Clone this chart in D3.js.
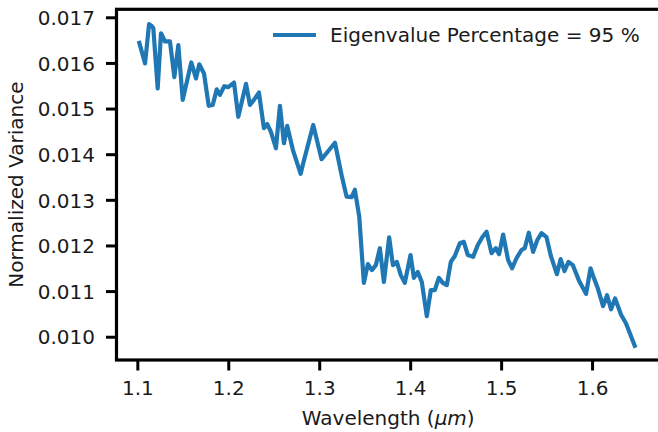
<!DOCTYPE html>
<html>
<head>
<meta charset="utf-8">
<script src="https://cdn.jsdelivr.net/npm/d3@7"></script>
<style>
  body { margin: 0; background: #fff; }
  svg { display: block; font-family: "DejaVu Sans", sans-serif; }
</style>
</head>
<body>
<svg id="gfx" width="658" height="432"></svg>
<script>
// wavelength (um) and normalized variance
var wavelength = [
    1.1022, 1.1085, 1.1129, 1.1158, 1.1176, 1.1224, 1.1260, 1.1304, 1.1359, 1.1407,
    1.1451, 1.1499, 1.1593, 1.1645, 1.1681, 1.1733, 1.1785, 1.1829, 1.1873, 1.1909,
    1.1956, 1.2000, 1.2063, 1.2110, 1.2195, 1.2238, 1.2282, 1.2337, 1.2392, 1.2429,
    1.2469, 1.2524, 1.2568, 1.2612, 1.2648, 1.2711, 1.2796, 1.2824, 1.2934, 1.3026,
    1.3173, 1.3246, 1.3301, 1.3356, 1.3392, 1.3440, 1.3491, 1.3535, 1.3579, 1.3623,
    1.3667, 1.3711, 1.3769, 1.3810, 1.3853, 1.3897, 1.3941, 1.4004, 1.4041, 1.4084,
    1.4128, 1.4183, 1.4227, 1.4271, 1.4315, 1.4359, 1.4403, 1.4447, 1.4491, 1.4546,
    1.4590, 1.4634, 1.4692, 1.4744, 1.4796, 1.4840, 1.4895, 1.4942, 1.4978, 1.5022,
    1.5077, 1.5121, 1.5169, 1.5224, 1.5260, 1.5304, 1.5352, 1.5398, 1.5444, 1.5499,
    1.5547, 1.5613, 1.5654, 1.5697, 1.5741, 1.5788, 1.5854, 1.5934, 1.5983, 1.6019,
    1.6063, 1.6121, 1.6165, 1.6209, 1.6253, 1.6319, 1.6374, 1.6469
];
var variance = [
    0.01644, 0.01599, 0.01685, 0.01681, 0.01676, 0.01544, 0.01665, 0.01647, 0.01647, 0.01569,
    0.01639, 0.01519, 0.01601, 0.01566, 0.01597, 0.01577, 0.01506, 0.01508, 0.01542, 0.01530,
    0.01549, 0.01547, 0.01557, 0.01482, 0.01554, 0.01508, 0.01519, 0.01535, 0.01457, 0.01466,
    0.01449, 0.01413, 0.01506, 0.01424, 0.01462, 0.01409, 0.01357, 0.01380, 0.01464, 0.01389,
    0.01425, 0.01354, 0.01307, 0.01306, 0.01322, 0.01263, 0.01118, 0.01159, 0.01146, 0.01157,
    0.01194, 0.01120, 0.01218, 0.01157, 0.01164, 0.01135, 0.01118, 0.01179, 0.01129, 0.01142,
    0.01120, 0.01045, 0.01102, 0.01102, 0.01129, 0.01118, 0.01113, 0.01164, 0.01177, 0.01205,
    0.01208, 0.01179, 0.01175, 0.01201, 0.01219, 0.01230, 0.01183, 0.01194, 0.01181, 0.01224,
    0.01168, 0.01150, 0.01172, 0.01190, 0.01194, 0.01228, 0.01186, 0.01212, 0.01227, 0.01218,
    0.01177, 0.01137, 0.01170, 0.01144, 0.01164, 0.01157, 0.01124, 0.01094, 0.01150, 0.01129,
    0.01106, 0.01067, 0.01091, 0.01060, 0.01084, 0.01048, 0.01029, 0.00980
];
var xTicks = [1.1, 1.2, 1.3, 1.4, 1.5, 1.6];
var yTicks = [0.010, 0.011, 0.012, 0.013, 0.014, 0.015, 0.016, 0.017];
var legendLabel = "Eigenvalue Percentage = 95 %";
var yTitle = "Normalized Variance";

var chart = {};

function initialise() {
    chart = {
        fontSize: 20,
        lineColor: "#1f77b4",
        box: { left: 116.5, right: 660, top: 9.3, bottom: 360 }
    };
    chart.svg = d3.select("#gfx");
    chart.x = d3.scaleLinear().domain([1.0771, 1.6747]).range([chart.box.left, chart.box.right]);
    chart.y = d3.scaleLinear().domain([0.009490, 0.017175]).range([chart.box.bottom, chart.box.top]);

    drawSeries();
    drawAxes();
    drawLegend();
}

function drawSeries() {
    var points = wavelength.map((w, i) => [w, variance[i]]);
    var line = d3.line()
        .x(d => chart.x(d[0]))
        .y(d => chart.y(d[1]));

    chart.svg.append("path")
        .datum(points)
        .attr("d", line)
        .attr("fill", "none")
        .attr("stroke", chart.lineColor)
        .attr("stroke-width", 4.2)
        .attr("stroke-linejoin", "round")
        .attr("stroke-linecap", "square");
}

function drawAxes() {
    var svg = chart.svg, box = chart.box;

    var xAxis = svg.append("g")
        .attr("transform", "translate(0," + box.bottom + ")")
        .call(d3.axisBottom(chart.x).tickValues(xTicks).tickFormat(d3.format(".1f")).tickSize(10.5).tickSizeOuter(0));
    var yAxis = svg.append("g")
        .attr("transform", "translate(" + box.left + ",0)")
        .call(d3.axisLeft(chart.y).tickValues(yTicks).tickFormat(d3.format(".3f")).tickSize(10.5).tickSizeOuter(0));

    [xAxis, yAxis].forEach(function(g) {
        g.select(".domain").remove();
        g.selectAll(".tick line").attr("stroke", "#000").attr("stroke-width", 3);
        g.selectAll(".tick text")
            .attr("fill", "#1a1a1a")
            .style("font-family", "DejaVu Sans")
            .style("font-size", chart.fontSize + "px");
    });
    xAxis.selectAll(".tick text").attr("y", 35).attr("dy", 0);
    yAxis.selectAll(".tick text").attr("x", -21.5).attr("dy", "0.36em");

    // frame
    svg.append("rect")
        .attr("x", box.left).attr("y", box.top)
        .attr("width", box.right - box.left).attr("height", box.bottom - box.top)
        .attr("fill", "none").attr("stroke", "#000").attr("stroke-width", 3.2);

    var xTitle = svg.append("text")
        .attr("x", (box.left + box.right) / 2).attr("y", 425)
        .attr("text-anchor", "middle")
        .attr("fill", "#1a1a1a")
        .style("font-size", chart.fontSize + "px");
    xTitle.append("tspan").text("Wavelength (");
    xTitle.append("tspan").style("font-style", "italic").text("\u03bcm");
    xTitle.append("tspan").text(")");

    svg.append("text")
        .attr("transform", "translate(23," + ((box.top + box.bottom) / 2) + ") rotate(-90)")
        .attr("text-anchor", "middle")
        .attr("fill", "#1a1a1a")
        .style("font-size", chart.fontSize + "px")
        .text(yTitle);
}

function drawLegend() {
    var svg = chart.svg;
    svg.append("line")
        .attr("x1", 273).attr("x2", 316).attr("y1", 35).attr("y2", 35)
        .attr("stroke", chart.lineColor).attr("stroke-width", 4.2);
    svg.append("text")
        .attr("x", 330).attr("y", 42)
        .attr("fill", "#1a1a1a")
        .style("font-size", chart.fontSize + "px")
        .text(legendLabel);
}

initialise();
</script>
</body>
</html>
